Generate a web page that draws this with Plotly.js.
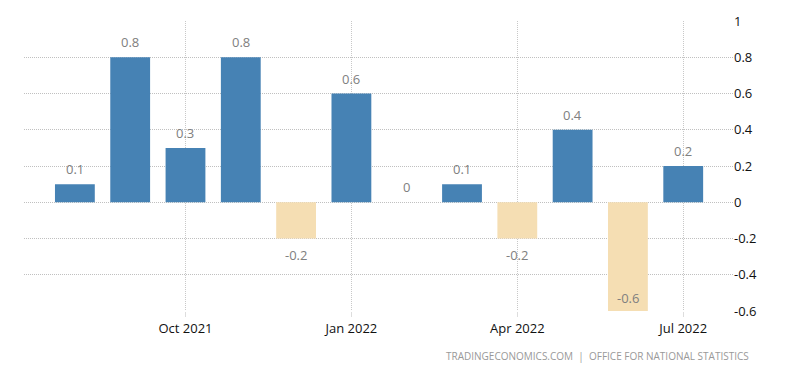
<!DOCTYPE html>
<html>
<head>
<meta charset="utf-8">
<script src="https://cdn.plot.ly/plotly-3.0.1.min.js"></script>
<style>html,body{margin:0;padding:0;background:#fff;}#chart{width:800px;height:373px;}</style>
</head>
<body>
<div id="chart"></div>
<script>
const months = ['Aug 2021','Sep 2021','Oct 2021','Nov 2021','Dec 2021','Jan 2022','Feb 2022','Mar 2022','Apr 2022','May 2022','Jun 2022','Jul 2022'];
const values = [0.1, 0.8, 0.3, 0.8, -0.2, 0.6, 0, 0.1, -0.2, 0.4, -0.6, 0.2];
const xTickLabels = ['Oct 2021','Jan 2022','Apr 2022','Jul 2022'];
const yTickVals = [-0.6, -0.4, -0.2, 0, 0.2, 0.4, 0.6, 0.8, 1];
const yTickText = ['-0.6','-0.4','-0.2','0','0.2','0.4','0.6','0.8','1'];
const source = 'TRADINGECONOMICS.COM  |  OFFICE FOR NATIONAL STATISTICS';

const yMin = -0.6, yMax = 1;
const colors = values.map(v => v < 0 ? '#F5DEB3' : '#4682B4');

const annotations = months.map((m, i) => {
  const v = values[i];
  let yanchor = 'bottom', yshift = 4;
  if (v < 0) {
    if (v <= yMin) { yanchor = 'bottom'; yshift = 2; }
    else { yanchor = 'top'; yshift = -5; }
  }
  return {
    x: m, y: v, xref: 'x', yref: 'y', text: String(v), showarrow: false,
    yanchor: yanchor, yshift: yshift,
    font: {family: 'Open Sans, sans-serif', size: 13, color: '#808080'}
  };
});
annotations.push({
  xref: 'paper', yref: 'paper', x: 1.026, y: -0.125, xanchor: 'right', yanchor: 'top',
  text: source, showarrow: false,
  font: {family: 'Open Sans, sans-serif', size: 10, color: '#999999'}
});

Plotly.newPlot('chart', [{
  type: 'bar', x: months, y: values,
  marker: {color: colors, line: {width: 0}},
  width: 0.72, hoverinfo: 'none'
}], {
  width: 800, height: 373,
  margin: {l: 24, r: 67, t: 21, b: 62},
  paper_bgcolor: '#ffffff', plot_bgcolor: '#ffffff',
  showlegend: false,
  xaxis: {
    type: 'category', range: [-0.92, 11.9],
    tickvals: xTickLabels, ticktext: xTickLabels,
    showgrid: true, gridcolor: '#c8c8c8', griddash: '1px,1px', gridwidth: 1,
    ticks: 'outside', ticklen: 5, tickcolor: '#dddddd',
    zeroline: false, showline: false,
    tickfont: {family: 'Open Sans, sans-serif', size: 13, color: '#111111'}
  },
  yaxis: {
    side: 'right', range: [yMin, yMax],
    tickvals: yTickVals, ticktext: yTickText,
    showgrid: true, gridcolor: '#c0c0c0', griddash: '1px,1px', gridwidth: 1,
    zeroline: false, showline: false, ticks: '',
    tickfont: {family: 'Open Sans, sans-serif', size: 13, color: '#111111'}
  },
  annotations: annotations
}, {displayModeBar: false, staticPlot: true});
</script>
</body>
</html>
